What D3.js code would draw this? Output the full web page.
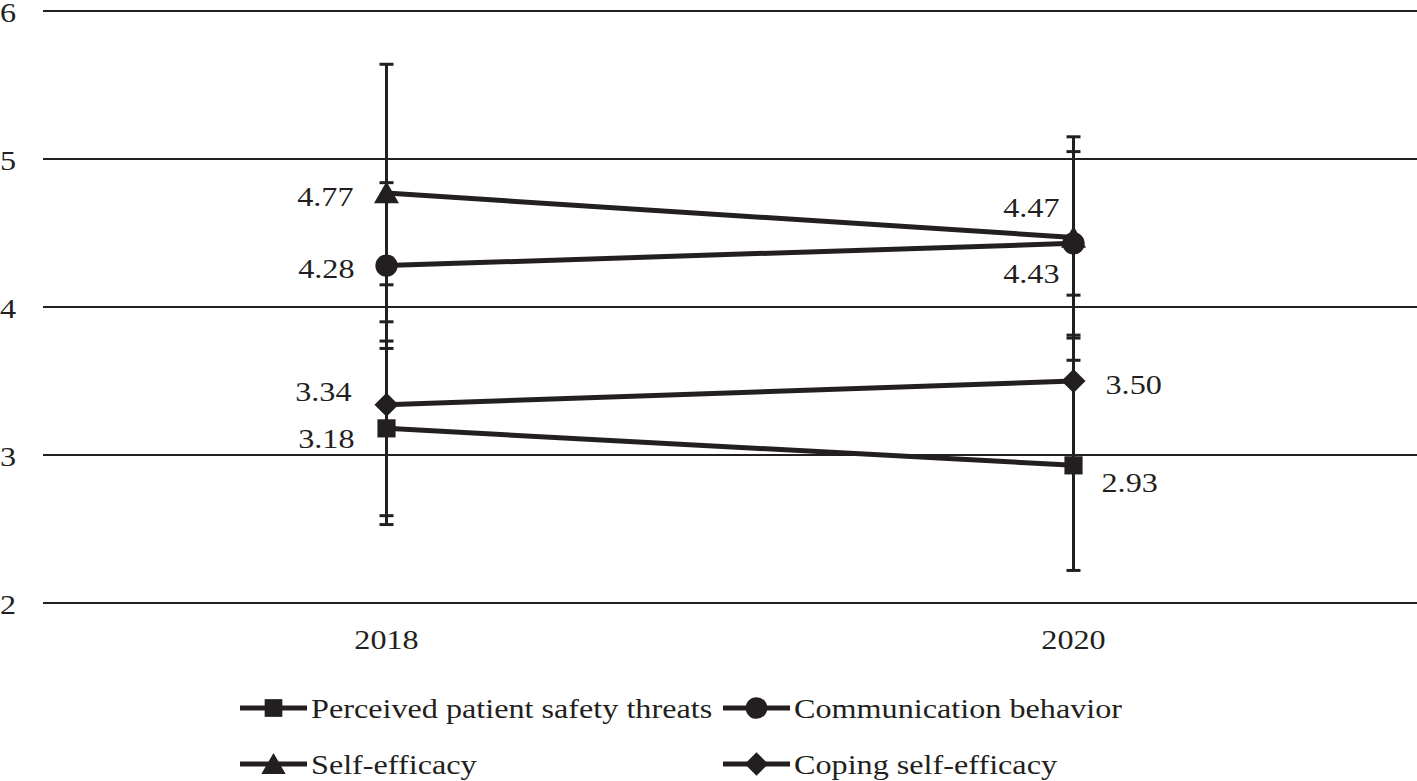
<!DOCTYPE html>
<html><head><meta charset="utf-8">
<script src="https://cdn.jsdelivr.net/npm/d3@7"></script>
<style>body{margin:0;background:#fff}svg{display:block}text{font-family:"Liberation Serif","Times New Roman",serif;fill:#231f20}</style>
</head><body>
<svg id="c" width="1417" height="781"></svg>
<script>
const years = ["2018", "2020"];
const seriesNames = ["Perceived patient safety threats", "Communication behavior", "Self-efficacy", "Coping self-efficacy"];
const markerShapes = ["square", "circle", "triangle", "diamond"];
const perceivedMeans = [3.18, 2.93];
const communicationMeans = [4.28, 4.43];
const selfEfficacyMeans = [4.77, 4.47];
const copingMeans = [3.34, 3.50];
const perceivedErr = [0.59, 0.71];
const communicationErr = [0.56, 0.62];
const selfEfficacyErr = [0.87, 0.68];
const copingErr = [0.81, 0.58];
const yTicks = [2, 3, 4, 5, 6];

(function () {
const means = [perceivedMeans, communicationMeans, selfEfficacyMeans, copingMeans];
const errs = [perceivedErr, communicationErr, selfEfficacyErr, copingErr];
// label offsets (layout only): [dx, dy(baseline), anchor] per series per year
const labelPos = [
  [[-32, 20, "end"], [28, 27, "start"]],
  [[-32, 12, "end"], [-14, 40, "end"]],
  [[-33, 13, "end"], [-14, -20, "end"]],
  [[-35, -4, "end"], [32, 13, "start"]]
];

const ink = "#231f20";
const FS = 28, SX = 1.15;
const svg = d3.select("#c");
const mLeft = 43, mRight = 1417, mTop = 11, mBottom = 603;
const x = d3.scaleBand().domain(years).range([mLeft, mRight]);
const y = d3.scaleLinear().domain([2, 6]).range([mBottom, mTop]);
const cx = d => x(d) + x.bandwidth() / 2;

function txt(px, py, s, anchor, dy, fs) {
  svg.append("g").attr("transform", `translate(${px},${py}) scale(${SX},1)`)
    .append("text").attr("x", 0).attr("y", 0).attr("dy", dy || 0)
    .attr("text-anchor", anchor).attr("font-size", fs || FS).text(s);
}

// gridlines
svg.append("g").selectAll("line").data(yTicks).join("line")
  .attr("x1", mLeft).attr("x2", mRight)
  .attr("y1", d => y(d)).attr("y2", d => y(d))
  .attr("stroke", ink).attr("stroke-width", 2);

// y tick labels
yTicks.forEach(t => txt(16, y(t), String(t), "end", "0.38em"));

// x labels
years.forEach(yr => txt(cx(yr), 649, yr, "middle"));

// error bars
const capW = 7;
means.forEach((m, si) => {
  years.forEach((yr, i) => {
    const g = svg.append("g").attr("stroke", ink);
    const lo = m[i] - errs[si][i], hi = m[i] + errs[si][i];
    g.append("line").attr("x1", cx(yr)).attr("x2", cx(yr)).attr("y1", y(lo)).attr("y2", y(hi)).attr("stroke-width", 3);
    [lo, hi].forEach(v => g.append("line").attr("x1", cx(yr) - capW).attr("x2", cx(yr) + capW)
      .attr("y1", y(v)).attr("y2", y(v)).attr("stroke-width", 3));
  });
});

const symbolFor = s => ({square: d3.symbolSquare, circle: d3.symbolCircle, triangle: d3.symbolTriangle, diamond: d3.symbolSquare})[s];
const symbolSize = {square: 330, circle: 390, triangle: 270, diamond: 290};
const symTransform = (shp, px, py) => `translate(${px},${py + (shp === "triangle" ? 3 : 0)})` + (shp === "diamond" ? " rotate(45)" : "");

// lines
const line = d3.line().x((d, i) => cx(years[i])).y(d => y(d));
means.forEach((m) => {
  svg.append("path").attr("d", line(m)).attr("fill", "none").attr("stroke", ink).attr("stroke-width", 5);
});

// markers
means.forEach((m, si) => {
  const shp = markerShapes[si];
  svg.append("g").selectAll("path").data(m).join("path")
    .attr("transform", (d, i) => symTransform(shp, cx(years[i]), y(d)))
    .attr("d", d3.symbol().type(symbolFor(shp)).size(symbolSize[shp]))
    .attr("fill", ink);
});

// value labels
means.forEach((m, si) => {
  m.forEach((v, i) => {
    const p = labelPos[si][i];
    txt(cx(years[i]) + p[0], y(v) + p[1], v.toFixed(2), p[2]);
  });
});

// legend
const legendItems = [
  {x: 240, y: 708}, {x: 723, y: 708}, {x: 240, y: 764}, {x: 723, y: 764}
];
seriesNames.forEach((name, si) => {
  const li = legendItems[si];
  const shp = markerShapes[si];
  const g = svg.append("g").attr("transform", `translate(${li.x},${li.y})`);
  g.append("line").attr("x1", 0).attr("x2", 67).attr("y1", 0).attr("y2", 0).attr("stroke", ink).attr("stroke-width", 5);
  g.append("path").attr("transform", symTransform(shp, 33.5, 0))
    .attr("d", d3.symbol().type(symbolFor(shp)).size(symbolSize[shp] * 0.95)).attr("fill", ink);
  txt(li.x + 71, li.y, name, "start", "0.35em");
});
})();
</script>
</body></html>
